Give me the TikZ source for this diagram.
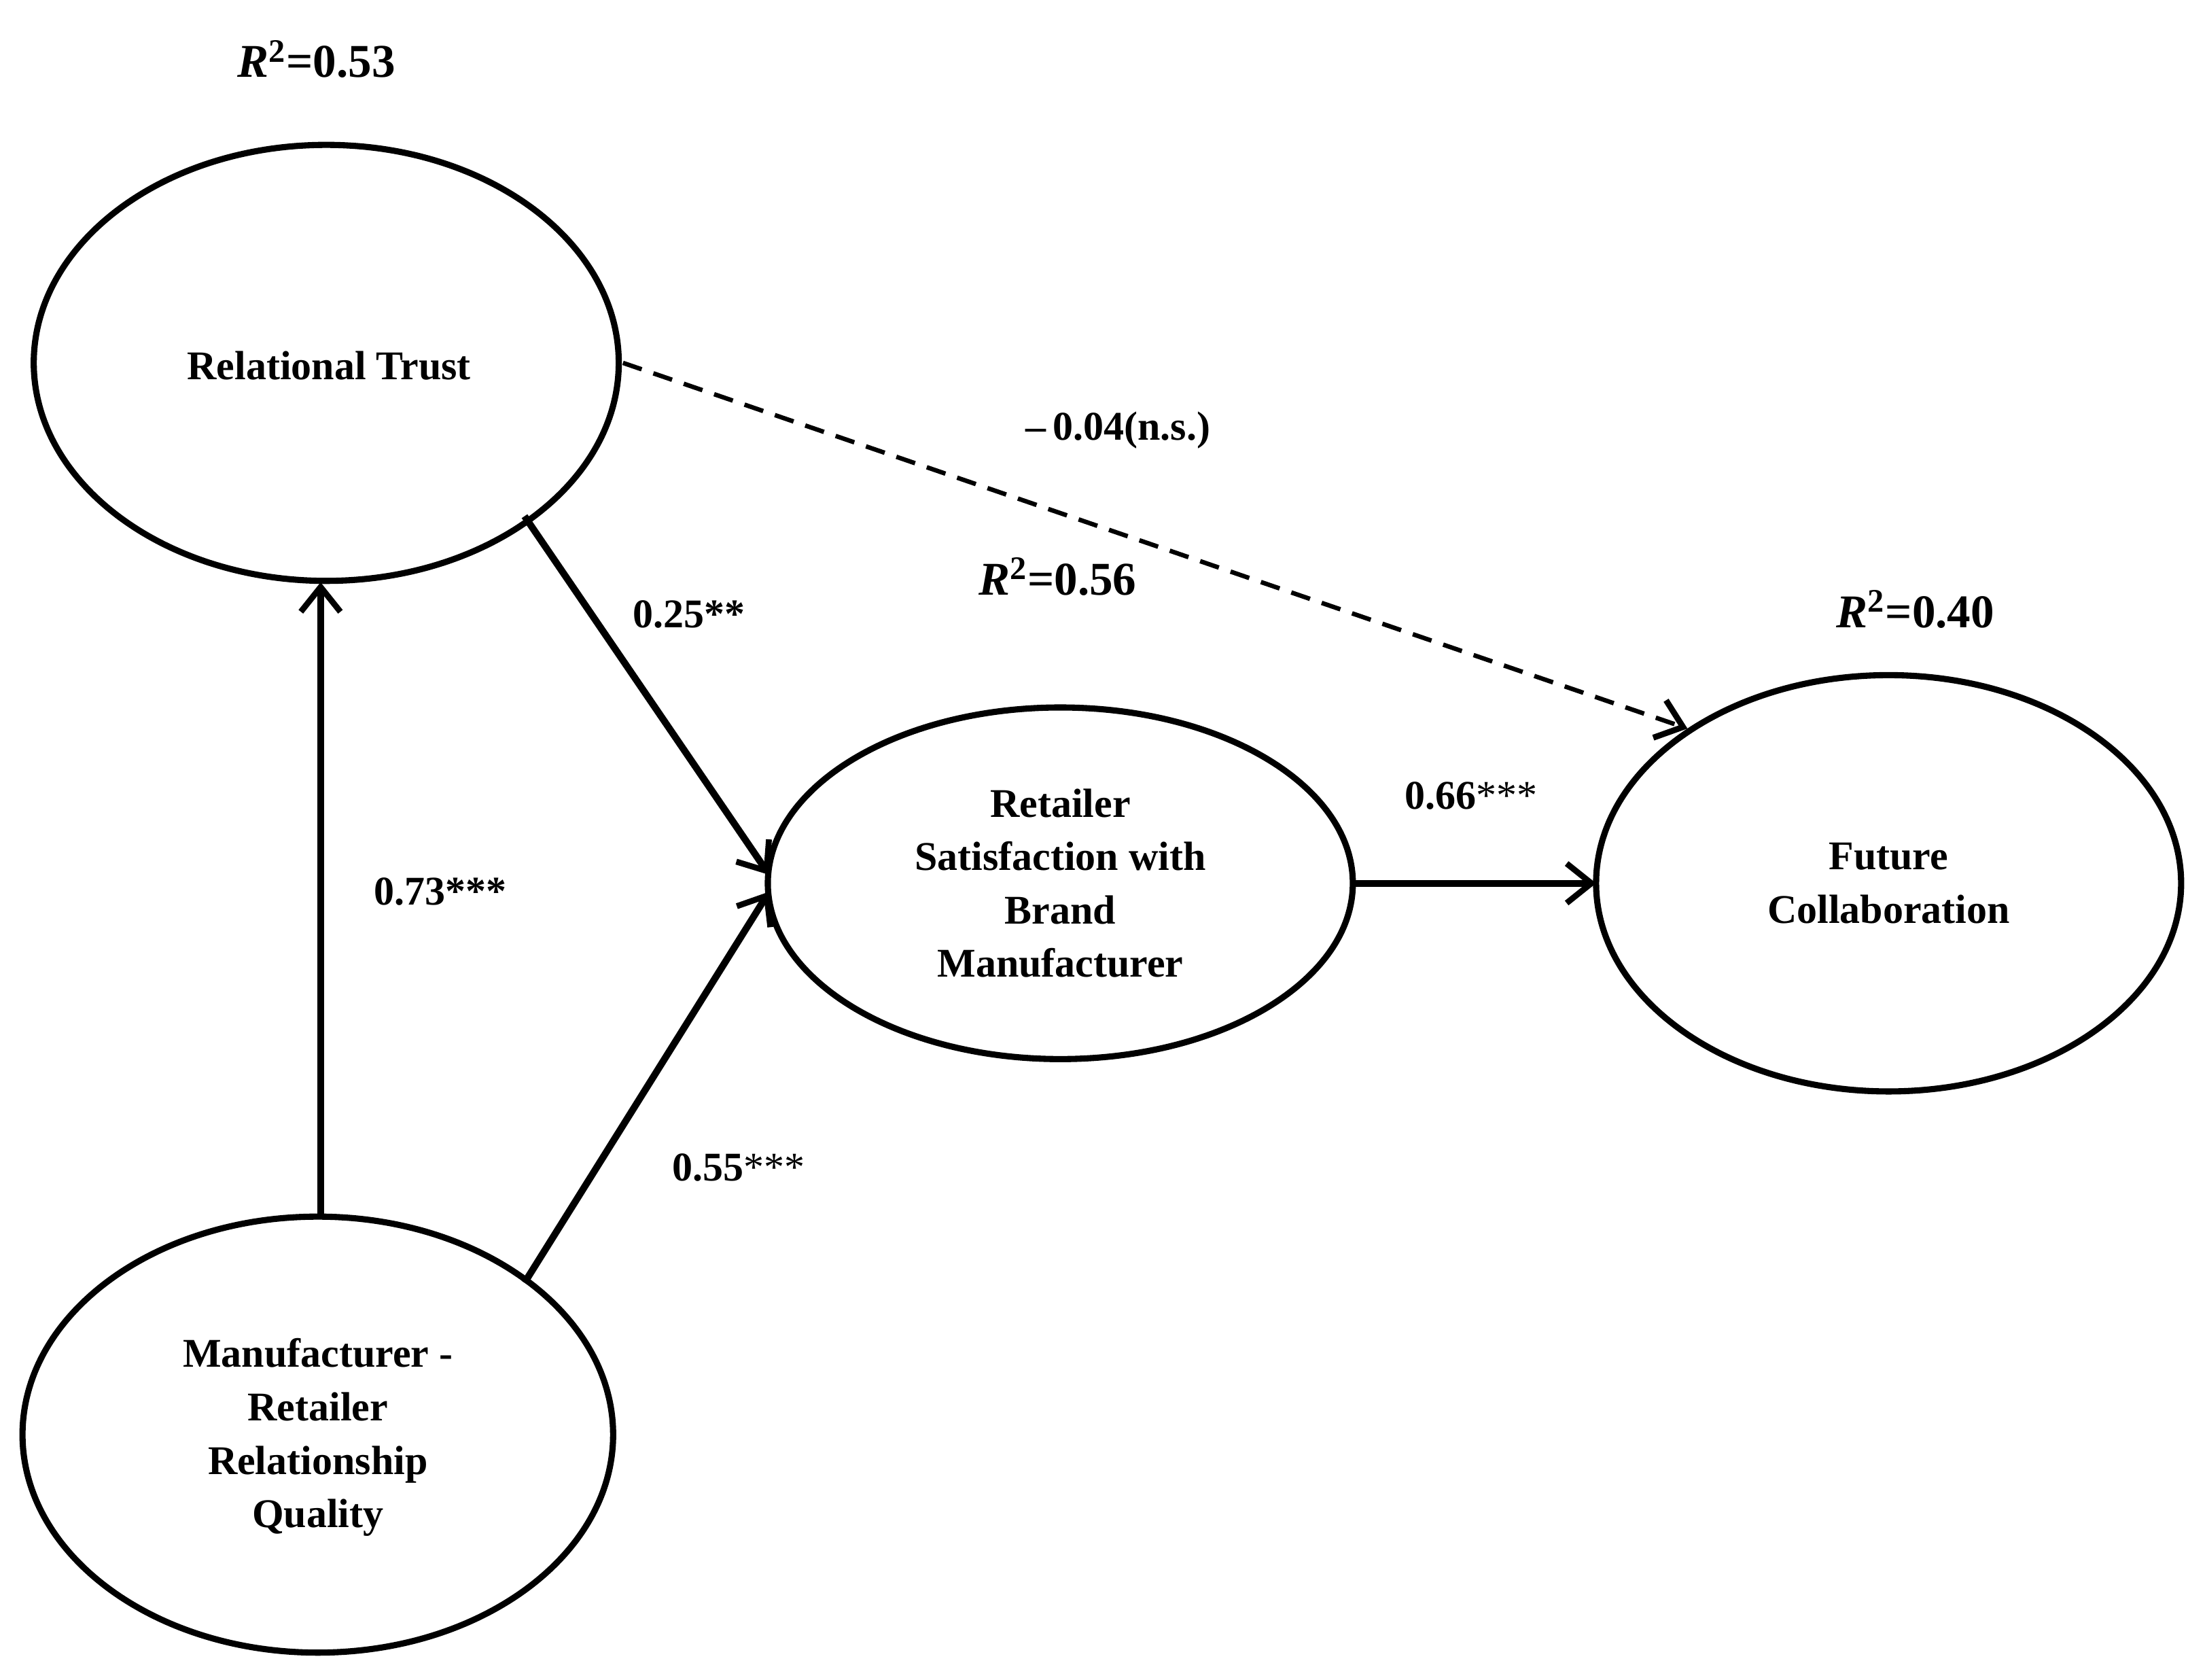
\documentclass[tikz,border=0pt]{standalone}
\usepackage{fontspec}
\setmainfont{Liberation Serif}
\usetikzlibrary{arrows.meta}
\begin{document}
\begin{tikzpicture}[x=0.02cm,y=-0.02cm,
  lab/.style={font=\fontsize{16.5}{21.6}\selectfont\bfseries,align=center},
  rsq/.style={font=\fontsize{19}{22}\selectfont\bfseries},
  arr/.style={line width=2.8pt,-{Straight Barb[length=10pt,width=16pt,line width=2.4pt]}}]
\useasboundingbox (0,0) rectangle (1568,1194);
\fill[white] (0,0) rectangle (1568,1194);
\draw[line width=2.5pt] (232,258) ellipse [x radius=208,y radius=155];
\draw[line width=2.5pt] (226,1020) ellipse [x radius=210,y radius=155];
\draw[line width=2.5pt] (754,628) ellipse [x radius=208,y radius=125];
\draw[line width=2.5pt] (1343,628) ellipse [x radius=208,y radius=148];
\node[lab] (rt) at (234,260) {Relational Trust};
\node[lab] (mrq) at (226,1022) {Manufacturer -\\Retailer\\Relationship\\Quality};
\node[lab] (rs) at (754,628) {Retailer\\Satisfaction with\\Brand\\Manufacturer};
\node[lab] (fc) at (1343,628) {Future\\Collaboration};
\coordinate (a1) at (228,865); \coordinate (a2) at (228,414);
\coordinate (b1) at (373,367); \coordinate (b2) at (547,622);
\coordinate (c1) at (373,912); \coordinate (c2) at (547,634);
\coordinate (d1) at (962,628); \coordinate (d2) at (1135,628);
\coordinate (e1) at (443,258); \coordinate (e2) at (1200,518);
\draw[arr] (a1) -- (a2);
\draw[arr] (b1) -- (b2);
\draw[arr] (c1) -- (c2);
\draw[arr] (d1) -- (d2);
\draw[arr,dash pattern=on 8pt off 5pt,line width=1.8pt] (e1) -- (e2);
\node[rsq] at (225,42) {\textit{R}\textsuperscript{2}=0.53};
\node[rsq] at (752,410) {\textit{R}\textsuperscript{2}=0.56};
\node[rsq] at (1362,433) {\textit{R}\textsuperscript{2}=0.40};
\node[lab] at (795,306) {\textendash\,0.04(n.s.)};
\node[lab] at (490,437) {0.25**};
\node[lab] at (313,634) {0.73***};
\node[lab] at (525,830) {0.55\textmd{***}};
\node[lab] at (1046,566) {0.66\textmd{***}};
\end{tikzpicture}
\end{document}
